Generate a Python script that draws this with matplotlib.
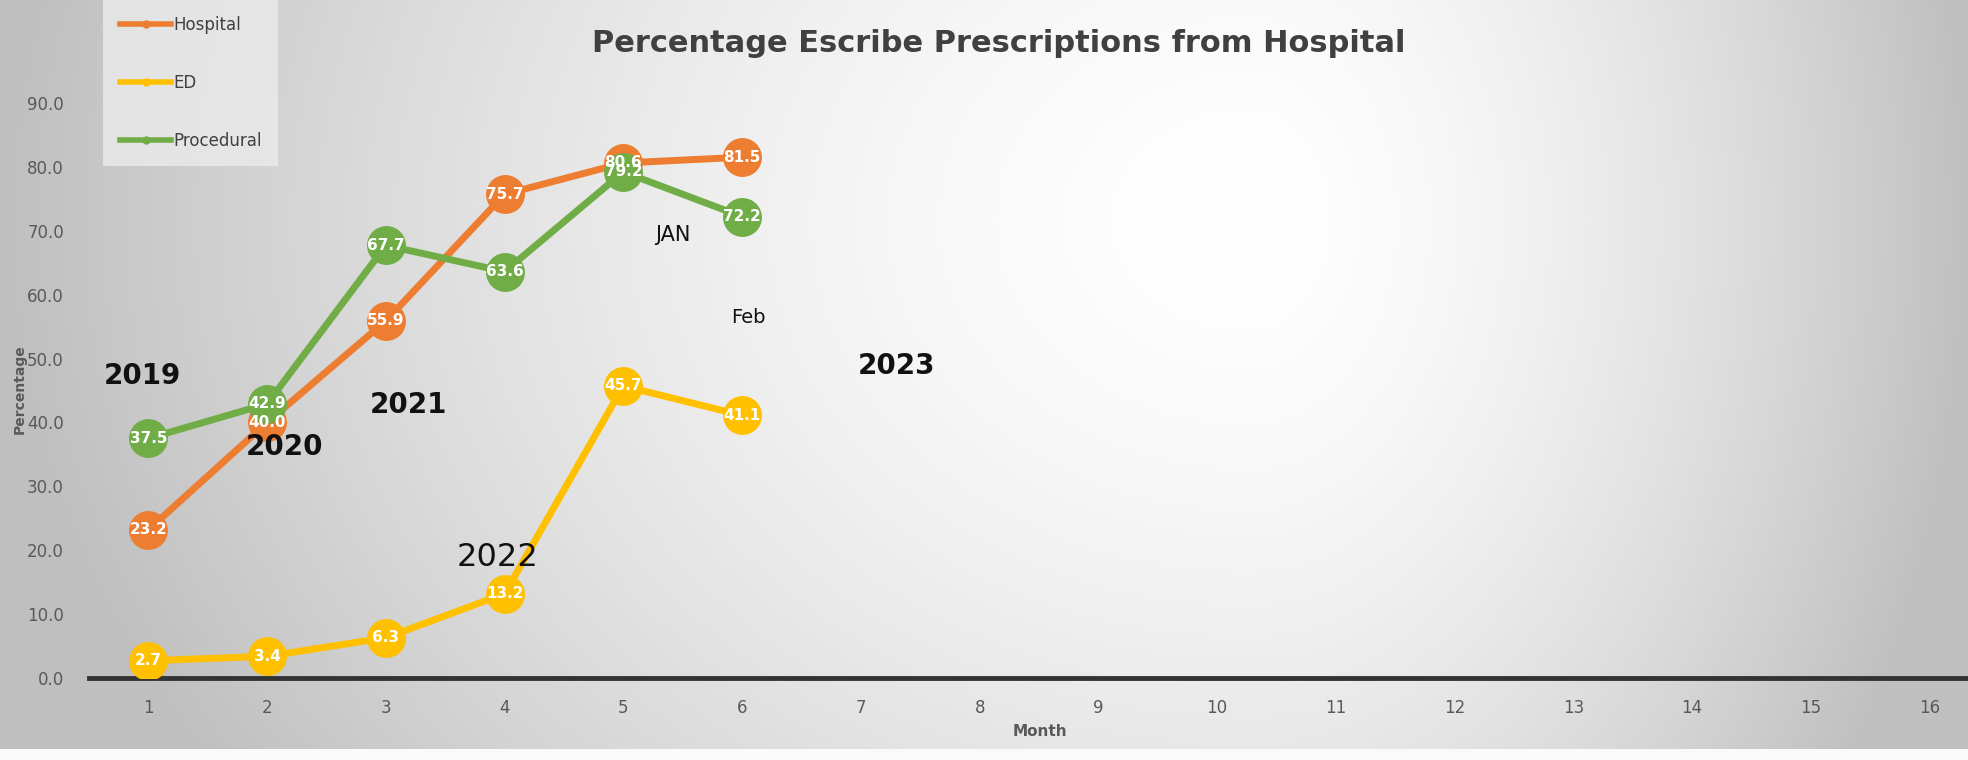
import numpy as np
import matplotlib
matplotlib.use("Agg")
import matplotlib.pyplot as plt

months = [1, 2, 3, 4, 5, 6]
hospital = [23.2, 40.0, 55.9, 75.7, 80.6, 81.5]
ed = [2.7, 3.4, 6.3, 13.2, 45.7, 41.1]
procedural = [37.5, 42.9, 67.7, 63.6, 79.2, 72.2]
series_names = ['Hospital', 'ED', 'Procedural']
series_colors = ['#ED7D31', '#FFC000', '#70AD47']
xticks = list(range(1, 17))
yticks = [0, 10, 20, 30, 40, 50, 60, 70, 80, 90]

# free text notes placed on the chart (label, x, y, size, weight)
notes = [('2019', 0.95, 47.2, 20, 'bold'),
         ('2020', 2.15, 36.2, 20, 'bold'),
         ('2021', 3.19, 42.8, 20, 'bold'),
         ('2022', 3.94, 18.9, 23, 'normal'),
         ('JAN', 5.42, 69.4, 15, 'normal'),
         ('Feb', 6.05, 56.4, 14, 'normal'),
         ('2023', 7.30, 48.9, 20, 'bold')]

W, H = 1968, 760
fig = plt.figure(figsize=(W / 100, H / 100), dpi=100)

# background: light centre top-right, greyer towards the edges
bg = fig.add_axes([0, 0, 1, 1], zorder=-5)
yy, xx = np.mgrid[0:H, 0:W].astype(float)
cx, cy = 1250.0, 220.0
dx = np.where(xx < cx, (xx - cx) / 1250.0, (xx - cx) / 720.0)
dy = (yy - cy) / 1000.0
d = np.clip(np.sqrt(dx ** 2 + dy ** 2), 0, 1)
g = 255 - 64 * d ** 1.6
g[749:, :] = 250
img = np.dstack([g, g, g]).astype(np.uint8)
bg.imshow(img, aspect='auto', interpolation='bilinear')
bg.axis('off')

ax = fig.add_axes([89 / W, 1 - 678 / H, 1900 / W, 639 / H])
ax.patch.set_alpha(0)

for vals, name, col in zip([hospital, ed, procedural], series_names, series_colors):
    ax.plot(months, vals, color=col, lw=5, marker='o', ms=27, mec=col,
            label=name, zorder=3)
    for m, v in zip(months, vals):
        ax.text(m, v, '%.1f' % v, color='white', fontsize=11, fontweight='bold',
                ha='center', va='center', zorder=4, clip_on=False)

for txt, x, y, s, w in notes:
    ax.text(x, y, txt, fontsize=s, fontweight=w, color='#111111',
            ha='center', va='center', zorder=5)

ax.set_xlim(0.5, 16.5)
ax.set_ylim(0, 100)
ax.set_xticks(xticks)
ax.set_yticks(yticks)
ax.set_yticklabels(['%.1f' % t for t in yticks])
ax.tick_params(axis='both', length=0, labelsize=12, colors='#595959')
ax.tick_params(axis='y', pad=18)
ax.tick_params(axis='x', pad=15)
for s in ['top', 'right', 'left']:
    ax.spines[s].set_visible(False)
ax.spines['bottom'].set_linewidth(3.5)
ax.spines['bottom'].set_color('#333333')

ax.set_xlabel('Month', fontsize=11, fontweight='bold', color='#595959')
ax.xaxis.set_label_coords(0.5005, -0.072)
ax.set_ylabel('Percentage', fontsize=10, fontweight='bold', color='#595959')
ax.yaxis.set_label_coords(-0.033, 0.452)

fig.suptitle('Percentage Escribe Prescriptions from Hospital', x=999 / W,
             y=1 - 44 / H, va='center', fontsize=22, fontweight='bold',
             color='#404040')

leg_handles = [plt.Line2D([], [], color=c, lw=4, marker='o', ms=5) for c in series_colors]
leg = fig.legend(leg_handles, series_names, loc='upper left',
                 bbox_to_anchor=(103 / W, 1 + 1 / H), borderaxespad=0,
                 fontsize=12, labelspacing=2.4, handlelength=3.1,
                 handletextpad=0.1, borderpad=1.0, frameon=True, fancybox=False)
leg.get_frame().set_facecolor('#ebebeb')
leg.get_frame().set_edgecolor('none')
for t in leg.get_texts():
    t.set_color('#404040')

fig.savefig('out.png', dpi=100)
